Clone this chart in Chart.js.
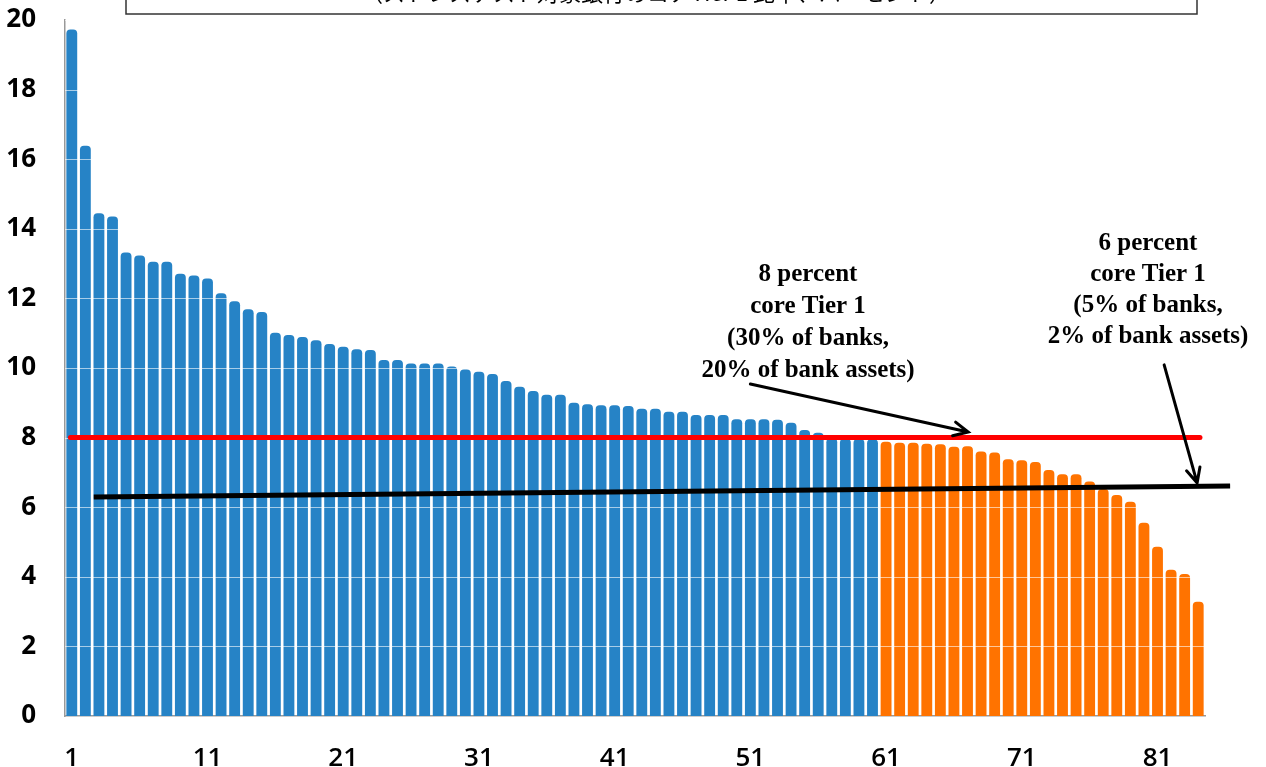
<!DOCTYPE html>
<html>
<head>
<meta charset="utf-8">
<script src="https://cdn.jsdelivr.net/npm/chart.js@4"></script>
<style>
  html, body { margin: 0; padding: 0; background: #fff; }
  #wrap { width: 1266px; height: 767px; position: relative; }
</style>
</head>
<body>
<div id="wrap"><canvas id="myChart"></canvas></div>
<script>
// bank number (1..84) and core Tier 1 ratio, percent
const banks = Array.from({ length: 84 }, (_, i) => String(i + 1));
const coreTier1 = [
  19.73, 16.39, 14.45, 14.35, 13.32, 13.23, 13.05, 13.05, 12.71, 12.66,
  12.57, 12.15, 11.92, 11.69, 11.61, 11.01, 10.95, 10.89, 10.80, 10.69,
  10.61, 10.54, 10.52, 10.23, 10.23, 10.13, 10.13, 10.13, 10.04, 9.96,
  9.89, 9.83, 9.63, 9.46, 9.34, 9.23, 9.23, 9.00, 8.96, 8.93,
  8.93, 8.91, 8.83, 8.83, 8.74, 8.74, 8.65, 8.65, 8.65, 8.53,
  8.53, 8.53, 8.51, 8.43, 8.22, 8.14, 7.98, 7.97, 7.96, 7.95,
  7.88, 7.85, 7.85, 7.82, 7.81, 7.74, 7.75, 7.60, 7.57, 7.38,
  7.35, 7.30, 7.07, 6.95, 6.95, 6.74, 6.52, 6.35, 6.16, 5.55,
  4.86, 4.20, 4.08, 3.28
];
const belowEightFrom = 61;  // first bank drawn in orange
const yTicks = [0, 2, 4, 6, 8, 10, 12, 14, 16, 18, 20];

// reference lines, in bank-number / percent units
const redLine = [{ x: 0.9, y: 8 }, { x: 84.13, y: 8 }];
const blackLine = [{ x: 2.62, y: 6.29 }, { x: 86.35, y: 6.61 }];

// annotation arrows [from, to]
const arrows = [
  [{ x: 51.0, y: 9.54 }, { x: 67.05, y: 8.16 }],
  [{ x: 81.49, y: 10.09 }, { x: 83.92, y: 6.70 }]
];
const note8 = ['8 percent', 'core Tier 1', '(30% of banks,', '20% of bank assets)'];
const note6 = ['6 percent', 'core Tier 1', '(5% of banks,', '2% of bank assets)'];
const titleText = '（ストレステスト対象銀行のコアTier 1 比率、パーセント）';

const barColors = coreTier1.map((v, i) => (i + 1 >= belowEightFrom ? '#FF7300' : '#2683C6'));

// white grid lines showing across the bars only
const gridOverBars = {
  id: 'gridOverBars',
  afterDatasetDraw(chart, args) {
    if (args.index !== 0) return;
    const { ctx, chartArea, scales } = chart;
    ctx.save();
    ctx.strokeStyle = 'rgba(255,255,255,0.6)';
    ctx.lineWidth = 1;
    yTicks.forEach(t => {
      if (t === 0) return;
      const y = Math.round(scales.y.getPixelForValue(t)) + 0.5;
      ctx.beginPath();
      ctx.moveTo(chartArea.left, y);
      ctx.lineTo(chartArea.right, y);
      ctx.stroke();
    });
    ctx.restore();
  }
};

const notes = {
  id: 'notes',
  afterDraw(chart) {
    const { ctx, scales } = chart;
    const sx = scales.x2, sy = scales.y;
    ctx.save();

    // title box, mostly cut off at the top
    ctx.strokeStyle = '#333';
    ctx.lineWidth = 1.5;
    ctx.strokeRect(126, -20, 1071, 34);
    ctx.fillStyle = '#000';
    ctx.font = '22px "Noto Sans CJK JP"';
    ctx.textAlign = 'center';
    ctx.textBaseline = 'alphabetic';
    ctx.fillText(titleText, 656, 1);

    // arrows
    ctx.strokeStyle = '#000';
    ctx.lineWidth = 3;
    ctx.lineCap = 'round';
    arrows.forEach(([a, b]) => {
      const x1 = sx.getPixelForValue(a.x), y1 = sy.getPixelForValue(a.y);
      const x2 = sx.getPixelForValue(b.x), y2 = sy.getPixelForValue(b.y);
      const ang = Math.atan2(y2 - y1, x2 - x1);
      ctx.beginPath();
      ctx.moveTo(x1, y1);
      ctx.lineTo(x2, y2);
      ctx.moveTo(x2 - 16 * Math.cos(ang - 0.45), y2 - 16 * Math.sin(ang - 0.45));
      ctx.lineTo(x2, y2);
      ctx.lineTo(x2 - 16 * Math.cos(ang + 0.45), y2 - 16 * Math.sin(ang + 0.45));
      ctx.stroke();
    });

    // annotation text
    ctx.font = 'bold 25px "Liberation Serif"';
    ctx.textBaseline = 'middle';
    note8.forEach((t, i) => ctx.fillText(t, 808, 275 + i * 32));
    note6.forEach((t, i) => ctx.fillText(t, 1148, 244 + i * 31));
    ctx.restore();
  }
};

const ctx = document.getElementById('myChart').getContext('2d');
new Chart(ctx, {
  type: 'bar',
  data: {
    labels: banks,
    datasets: [
      {
        label: 'core Tier 1',
        data: coreTier1,
        backgroundColor: barColors,
        borderRadius: { topLeft: 4, topRight: 4 },
        borderSkipped: 'start',
        barPercentage: 0.8,
        categoryPercentage: 1.0,
        grouped: false,
        order: 1
      },
      {
        type: 'line',
        label: '8 percent',
        data: redLine,
        xAxisID: 'x2',
        borderColor: '#FF0000',
        borderWidth: 5,
        borderCapStyle: 'round',
        pointRadius: 0,
        order: 0
      },
      {
        type: 'line',
        label: '6 percent',
        data: blackLine,
        xAxisID: 'x2',
        borderColor: '#000000',
        borderWidth: 5,
        pointRadius: 0,
        clip: false,
        order: 0
      }
    ]
  },
  options: {
    responsive: true,
    maintainAspectRatio: false,
    animation: false,
    layout: { padding: { top: 20, right: 61, left: 0, bottom: 0 } },
    plugins: {
      legend: { display: false },
      title: { display: false },
      tooltip: { enabled: false }
    },
    scales: {
      x: {
        type: 'category',
        grid: { display: false, drawTicks: false },
        border: { color: '#999', width: 1.5 },
        afterFit(scale) { scale.height = 51; scale.paddingTop = 0; },
        ticks: {
          autoSkip: false,
          maxRotation: 0,
          padding: 27,
          color: '#000',
          font: { family: '"Open Sans"', size: 26, weight: '600' },
          callback(val, index) { return index % 10 === 0 ? this.getLabelForValue(val) : ''; }
        }
      },
      x2: {
        type: 'linear', min: 0.5, max: 84.5, offset: false, display: false,
        grid: { offset: false }
      },
      y: {
        min: 0,
        max: 20,
        grid: { display: false, drawTicks: false },
        border: { color: '#999', width: 1.5 },
        afterFit(scale) { scale.width = 65; scale.paddingTop = 0; scale.paddingBottom = 0; },
        ticks: {
          stepSize: 2,
          padding: 29,
          color: '#000',
          font: { family: '"Open Sans"', size: 26, weight: 'bold', lineHeight: 1.0 }
        }
      }
    }
  },
  plugins: [gridOverBars, notes]
});
</script>
</body>
</html>
